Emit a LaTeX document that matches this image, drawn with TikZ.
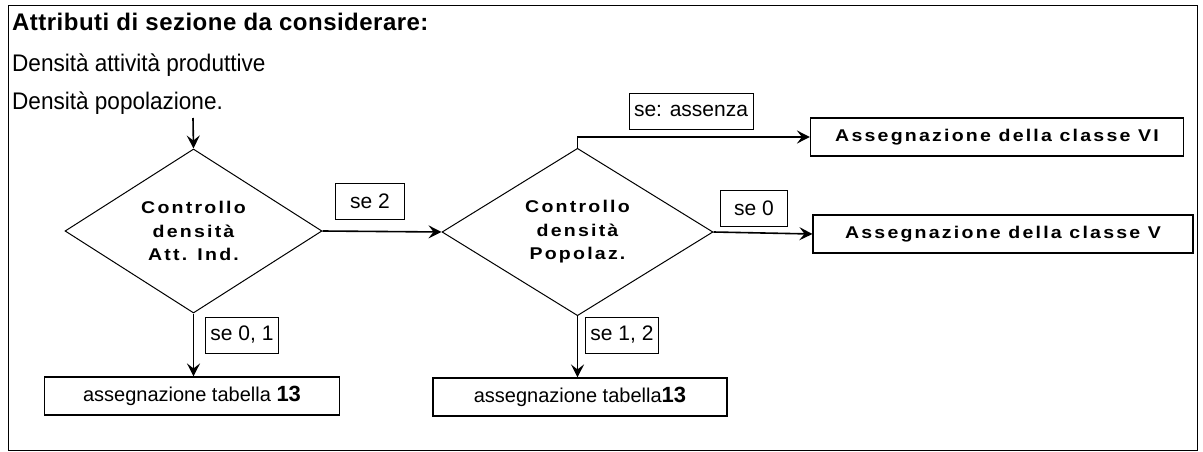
\documentclass[tikz,border=0pt]{standalone}
\usepackage{fontspec}
\setmainfont{Liberation Sans}
\newfontfamily\narrowfont{Liberation Sans}[FakeStretch=0.94]
\newfontfamily\titlefont{Liberation Sans Bold}[LetterSpace=2]
\newfontfamily\spacedbold{Liberation Sans Bold}[FakeStretch=1.15,LetterSpace=13]
\usetikzlibrary{shapes.geometric,arrows.meta}

\tikzset{
  freccia/.style={-{Stealth[length=13pt,width=13pt,inset=5pt]},line width=1.6pt},
  scelta/.style={diamond,draw,line width=1pt,minimum height=156pt,
    inner sep=0pt,align=center,font=\spacedbold\fontsize{17}{23.5}\selectfont},
  esito/.style={draw,line width=1.1pt,minimum height=38pt,inner sep=2pt},
  etichetta/.style={draw,line width=0.9pt,minimum height=36pt,inner xsep=5pt,
    font=\fontsize{21}{22}\selectfont}
}

\begin{document}
\begin{tikzpicture}[x=1pt,y=-1pt]
  \useasboundingbox (0,0) rectangle (1203,452);
  \draw[line width=0.8pt] (8,5) rectangle (1197,450);

  \node[anchor=base west,inner sep=0pt] (titolo) at (12,31)
    {\titlefont\fontsize{24}{26}\selectfont Attributi di sezione da considerare:};
  \node[anchor=base west,inner sep=0pt] (riga1) at (12,72)
    {\narrowfont\fontsize{24}{26}\selectfont Densità attività produttive};
  \node[anchor=base west,inner sep=0pt] (riga2) at (12,110)
    {\narrowfont\fontsize{24}{26}\selectfont Densità popolazione.};

  \coordinate (inizio) at (193,118);
  \node[scelta,minimum width=257pt] (att) at (193.5,231) {Controllo\\densità\\Att. Ind.};
  \node[scelta,minimum width=271pt] (pop) at (577.5,232) {Controllo\\densità\\Popolaz.};

  \node[esito,minimum width=373pt,font=\spacedbold\fontsize{17}{18}\selectfont] (classe6) at (997,137)
    {Assegnazione della classe VI};
  \node[esito,minimum width=380pt,font=\spacedbold\fontsize{17}{18}\selectfont] (classe5) at (1003,234)
    {Assegnazione della classe V};
  \node[esito,minimum width=295pt,font=\fontsize{20}{22}\selectfont] (tab1) at (192,396)
    {assegnazione tabella {\bfseries\fontsize{22}{22}\selectfont 13}};
  \node[esito,minimum width=294pt,font=\fontsize{20}{22}\selectfont] (tab2) at (580,397)
    {assegnazione tabella{\bfseries\fontsize{22}{22}\selectfont 13}};

  \node[etichetta,minimum width=69pt] (se2) at (370,201) {se 2};
  \node[etichetta,minimum width=121pt] (seass) at (691,111) {se: assenza};
  \node[etichetta,minimum width=67pt] (se0) at (754,208) {se 0};
  \node[etichetta,minimum width=69pt] (se01) at (242,335) {se 0, 1};
  \node[etichetta,minimum width=69pt] (se12) at (622,335) {se 1, 2};

  \draw[freccia] (inizio) -- (att.north);
  \draw[freccia] (att.east) -- (pop.west);
  \draw[freccia] (pop.north) |- (classe6.west);
  \draw[freccia] (pop.east) -- (classe5.west);
  \draw[freccia] (att.south) -- (tab1.north -| att.south);
  \draw[freccia] (pop.south) -- (tab2.north -| pop.south);
\end{tikzpicture}
\end{document}
